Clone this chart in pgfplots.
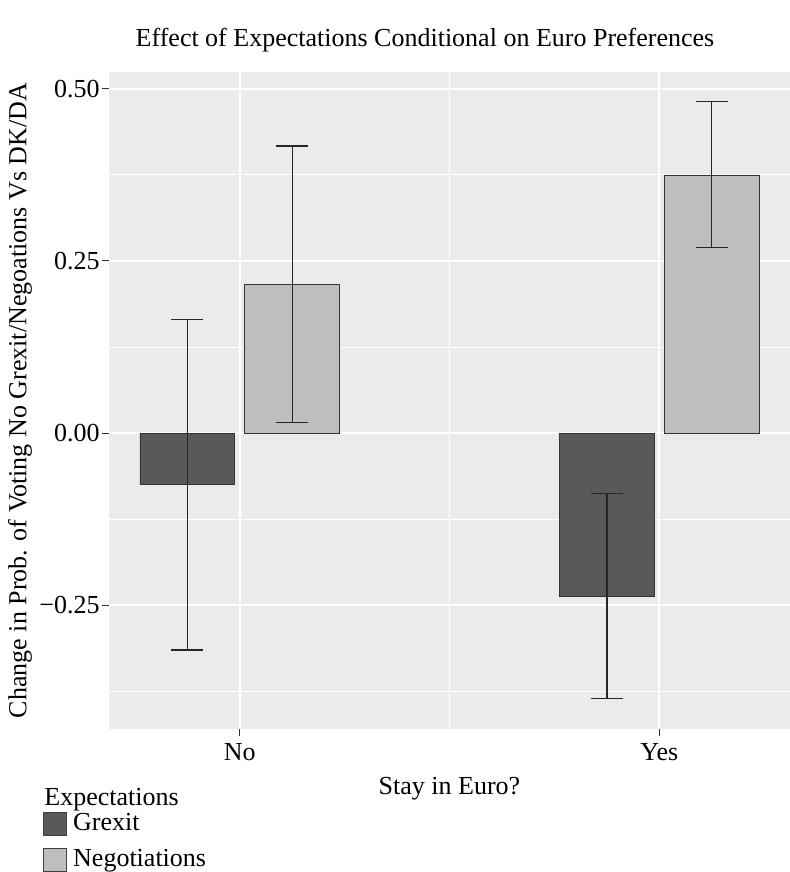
\documentclass[border=0pt]{standalone}
\usepackage{fontspec}
\setmainfont{Liberation Serif}
\usepackage{pgfplots}
\usepackage{pgfplotstable}
\pgfplotsset{compat=1.18}
\definecolor{panel}{HTML}{EBEBEB}
\definecolor{grexit}{HTML}{595959}
\definecolor{nego}{HTML}{BEBEBE}
\definecolor{tickc}{HTML}{333333}
\newcommand\ff{\fontsize{13}{15.6}\selectfont}
\pgfplotstableread{
x y ep em
1 -0.075 0.240 0.240
2 -0.237 0.149 0.149
}\grexitdata
\pgfplotstableread{
x y ep em
1 0.216 0.201 0.201
2 0.375 0.107 0.106
}\negodata
\begin{document}
\begin{tikzpicture}
\path[use as bounding box] (-54.5pt,-71.5pt) rectangle (340.5pt,364.5pt);
\begin{axis}[
  at={(0pt,0pt)}, anchor=south west,
  scale only axis, width=340.5pt, height=328.5pt,
  xmin=0.68875, xmax=2.31125, ymin=-0.4298, ymax=0.5245,
  axis background/.style={fill=panel},
  axis line style={draw=none},
  xtick={1,2}, xticklabels={No,Yes},
  ytick={-0.25,0,0.25,0.5}, yticklabels={−0.25,0.00,0.25,0.50},
  minor xtick={1.5}, minor ytick={-0.375,-0.125,0.125,0.375},
  tick align=outside, major tick length=3.5pt, minor tick length=0pt,
  tick style={color=tickc, line width=0.5pt},
  xtick pos=left, ytick pos=left,
  grid=both,
  major grid style={white, line width=1pt},
  minor grid style={white, line width=0.5pt},
  ticklabel style={font=\ff, text=black},
  xticklabel style={inner sep=3.3pt},
  yticklabel style={inner sep=1pt},
  xlabel={Stay in Euro?}, ylabel={Change in Prob. of Voting No Grexit/Negoations Vs DK/DA},
  label style={font=\ff},
  xlabel style={at={(axis description cs:0.5,0)}, anchor=base, yshift=-32.5pt},
  ylabel style={at={(axis description cs:0,0.5)}, anchor=center, yshift=44.5pt},
  ybar, bar width=0.225,
  legend style={at={(0,0)}, anchor=north west, xshift=-33pt, yshift=-40pt,
    draw=none, fill=none, inner sep=0pt, row sep=4pt, font=\ff,
    /tikz/every odd column/.style={column sep=1pt}},
  legend cell align=left,
]
\addplot[fill=grexit, draw=black!80, line width=0.4pt, bar shift=-0.125,
  error bars/.cd, y dir=both, y explicit,
  error bar style={color=black!85, line width=0.6pt},
  error mark options={rotate=90, mark size=8pt, line width=0.6pt, color=black!85},
  /pgfplots/legend image code/.code={\draw[fill=grexit, draw=black!75, line width=0.4pt] (0pt,-5.75pt) rectangle (11.5pt,5.75pt);}]
  table[x=x, y=y, y error plus=ep, y error minus=em]{\grexitdata};
\addlegendentry{Grexit}
\addplot[fill=nego, draw=black!80, line width=0.4pt, bar shift=0.125,
  error bars/.cd, y dir=both, y explicit,
  error bar style={color=black!85, line width=0.6pt},
  error mark options={rotate=90, mark size=8pt, line width=0.6pt, color=black!85},
  /pgfplots/legend image code/.code={\draw[fill=nego, draw=black!75, line width=0.4pt] (0pt,-5.75pt) rectangle (11.5pt,5.75pt);}]
  table[x=x, y=y, y error plus=ep, y error minus=em]{\negodata};
\addlegendentry{Negotiations}
\end{axis}
\node[anchor=base, font=\ff] at (158pt,341pt) {Effect of Expectations Conditional on Euro Preferences};
\node[anchor=base west, font=\ff, inner sep=0pt] at (-32.5pt,-38pt) {Expectations};
\end{tikzpicture}
\end{document}
